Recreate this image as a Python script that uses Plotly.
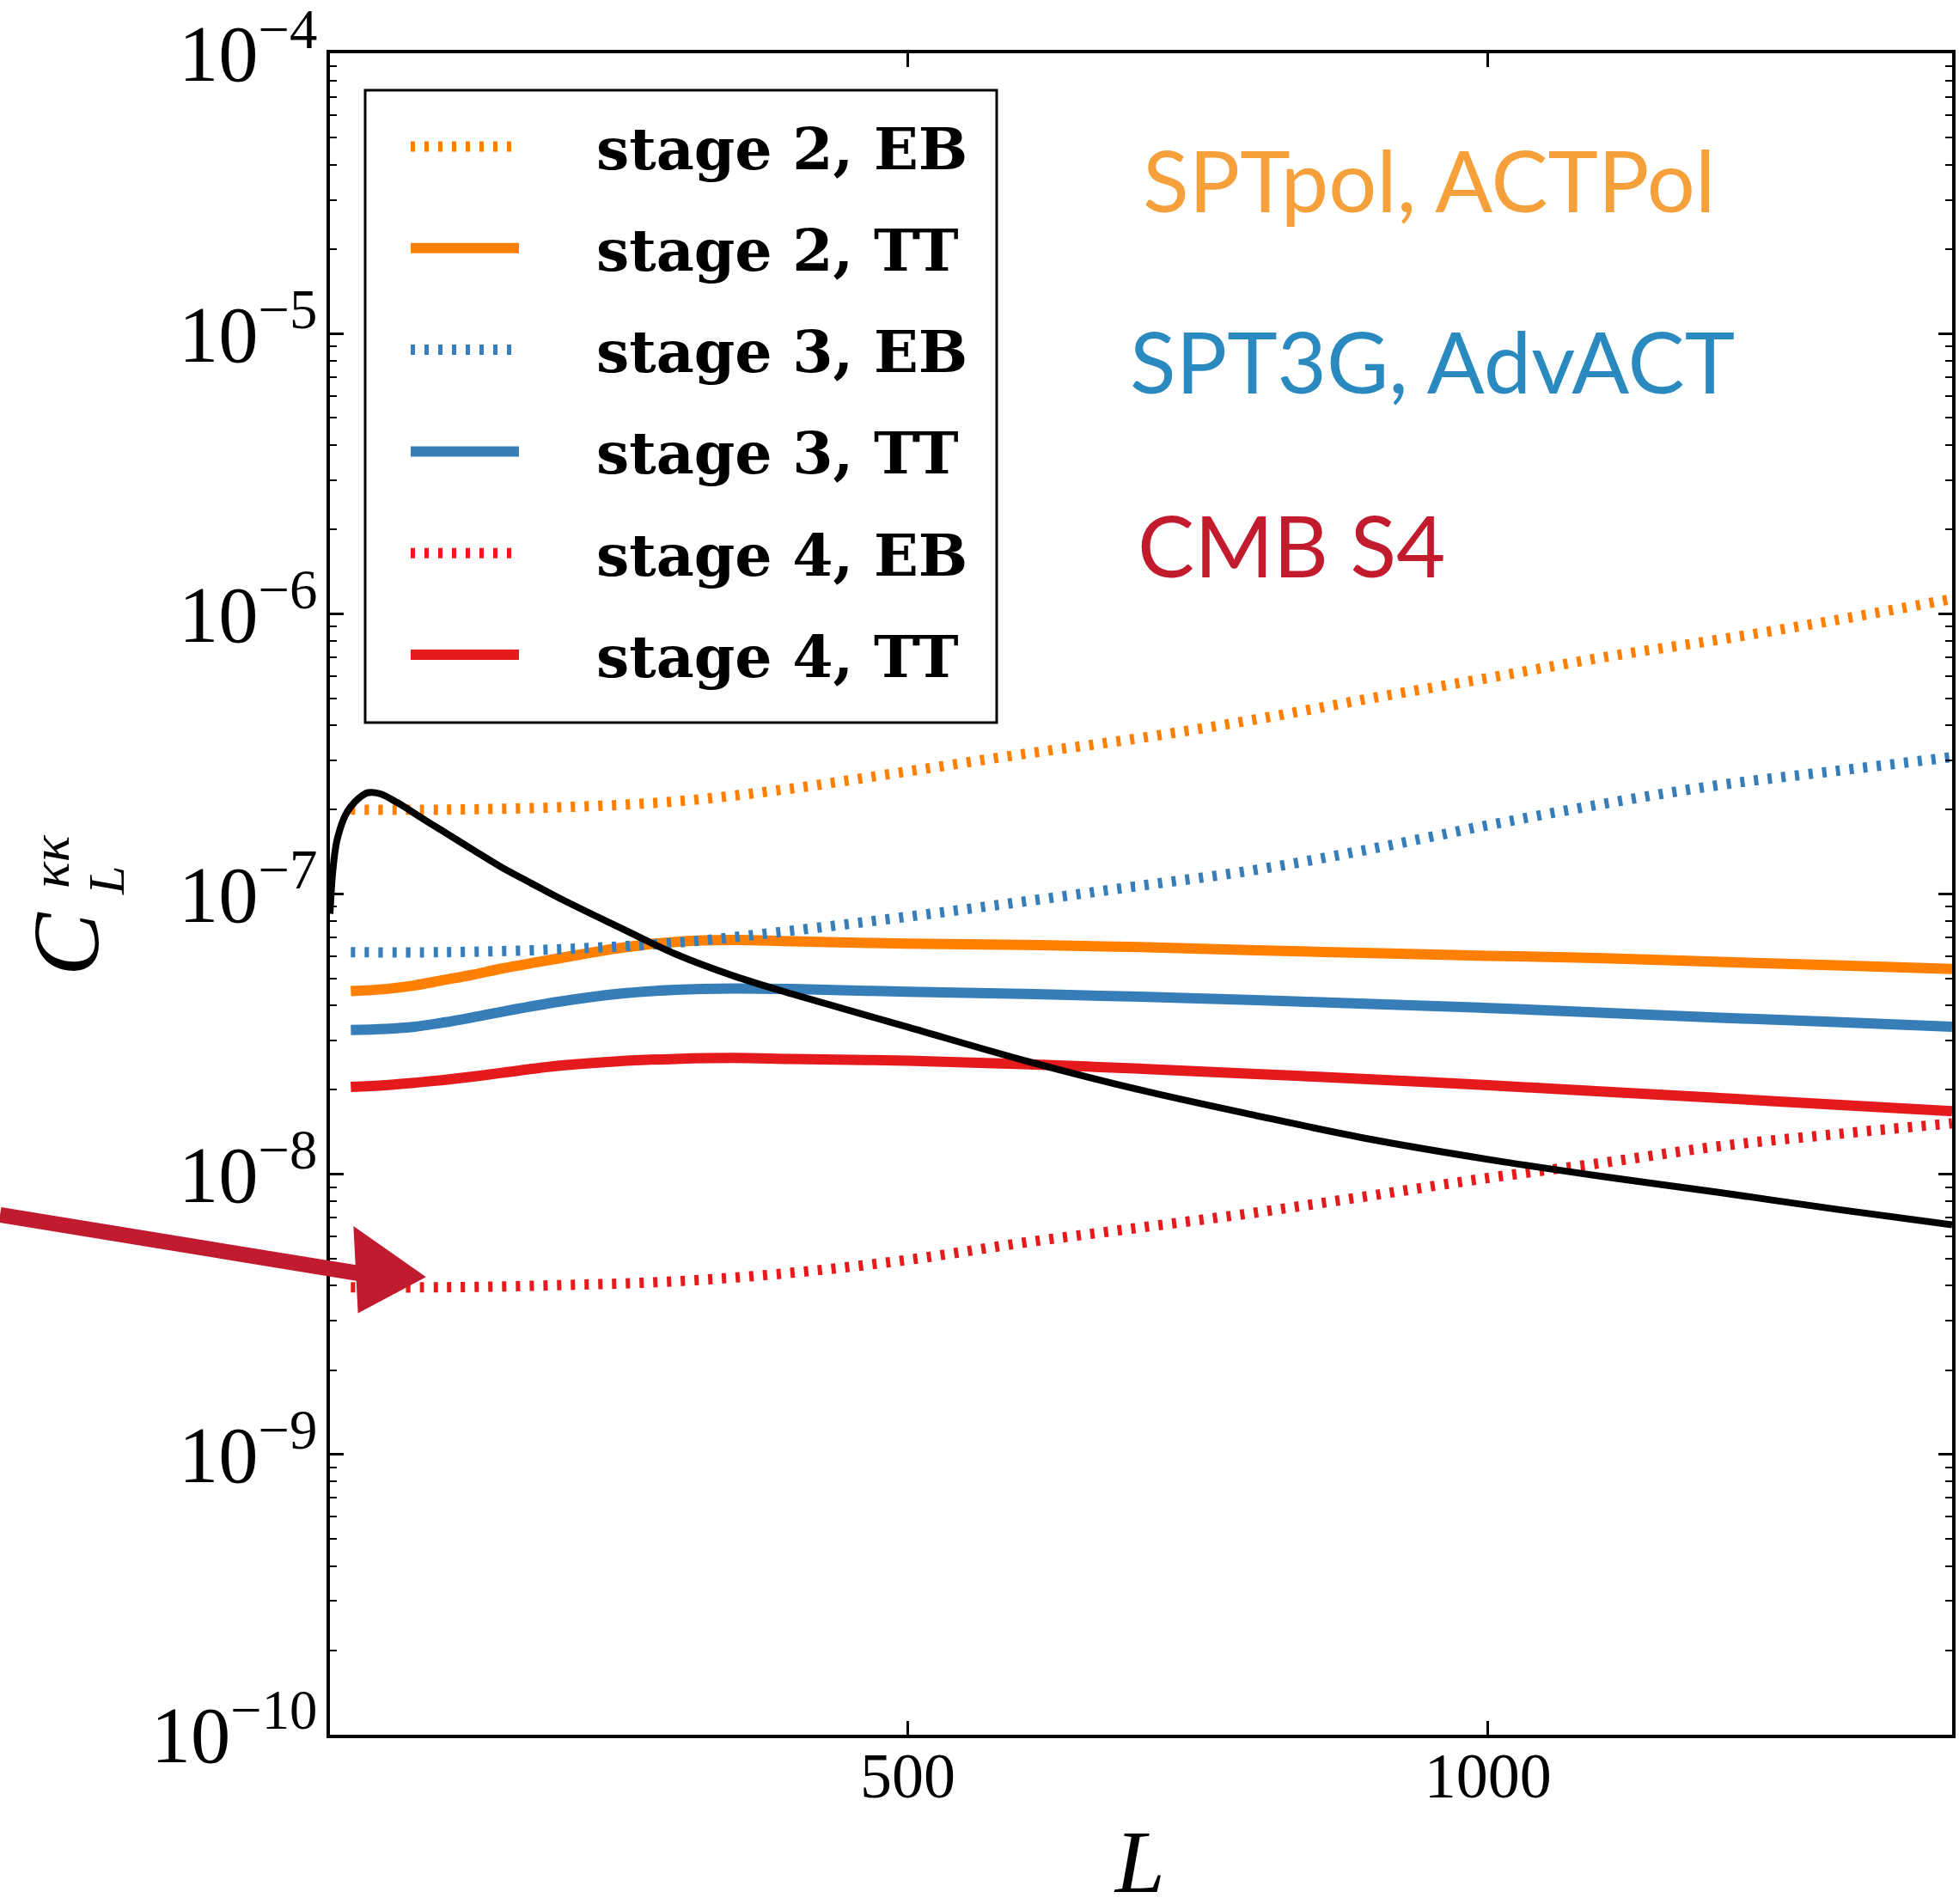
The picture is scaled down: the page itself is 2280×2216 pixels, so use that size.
import plotly.graph_objects as go

# ---------------- data ----------------
# multipole grids
L_eb = [20, 100, 200, 300, 400, 500, 600, 700, 800, 900, 1000, 1100, 1200, 1300, 1400]
L_tt = [20, 50, 75, 100, 125, 150, 200, 250, 300, 350, 400, 500, 600, 700, 800, 900,
        1000, 1100, 1200, 1300, 1400]
L_kk = [2, 3, 4, 6, 8, 11, 15, 20, 27, 35, 45, 60, 70, 80, 90, 100, 125, 150, 175, 200,
        250, 300, 350, 400, 500, 600, 700, 800, 900, 1000, 1100, 1200, 1300, 1400]

# lensing convergence power spectrum C_L^{kk}
C_kk = [8.5e-8, 1.0e-7, 1.15e-7, 1.38e-7, 1.55e-7, 1.72e-7, 1.9e-7, 2.05e-7, 2.2e-7,
        2.3e-7, 2.28e-7, 2.12e-7, 2.0e-7, 1.88e-7, 1.77e-7, 1.67e-7, 1.44e-7, 1.245e-7,
        1.095e-7, 9.65e-8, 7.65e-8, 6.1e-8, 5.1e-8, 4.4e-8, 3.35e-8, 2.55e-8, 2.0e-8,
        1.62e-8, 1.33e-8, 1.13e-8, 9.8e-9, 8.6e-9, 7.5e-9, 6.6e-9]

# reconstruction noise, EB estimator
N_eb_stage2 = [2.0e-7, 2.0e-7, 2.04e-7, 2.14e-7, 2.38e-7, 2.74e-7, 3.16e-7, 3.6e-7,
               4.2e-7, 5.0e-7, 5.9e-7, 7.0e-7, 8.1e-7, 9.5e-7, 1.13e-6]
N_eb_stage3 = [6.2e-8, 6.2e-8, 6.35e-8, 6.7e-8, 7.4e-8, 8.3e-8, 9.4e-8, 1.07e-7,
               1.22e-7, 1.45e-7, 1.76e-7, 2.1e-7, 2.45e-7, 2.75e-7, 3.08e-7]
N_eb_stage4 = [3.95e-9, 3.95e-9, 4.02e-9, 4.15e-9, 4.45e-9, 4.95e-9, 5.7e-9, 6.45e-9,
               7.3e-9, 8.4e-9, 9.7e-9, 1.1e-8, 1.26e-8, 1.39e-8, 1.52e-8]

# reconstruction noise, TT estimator
N_tt_stage2 = [4.5e-8, 4.58e-8, 4.72e-8, 4.93e-8, 5.15e-8, 5.42e-8, 5.9e-8, 6.4e-8,
               6.75e-8, 6.85e-8, 6.78e-8, 6.65e-8, 6.58e-8, 6.47e-8, 6.3e-8, 6.15e-8,
               6.02e-8, 5.9e-8, 5.72e-8, 5.57e-8, 5.4e-8]
N_tt_stage3 = [3.27e-8, 3.3e-8, 3.36e-8, 3.48e-8, 3.63e-8, 3.8e-8, 4.13e-8, 4.4e-8,
               4.55e-8, 4.6e-8, 4.58e-8, 4.48e-8, 4.4e-8, 4.3e-8, 4.18e-8, 4.05e-8,
               3.92e-8, 3.77e-8, 3.62e-8, 3.49e-8, 3.36e-8]
N_tt_stage4 = [2.05e-8, 2.08e-8, 2.12e-8, 2.17e-8, 2.23e-8, 2.3e-8, 2.44e-8, 2.53e-8,
               2.58e-8, 2.6e-8, 2.58e-8, 2.54e-8, 2.47e-8, 2.38e-8, 2.28e-8, 2.18e-8,
               2.08e-8, 1.97e-8, 1.87e-8, 1.77e-8, 1.68e-8]

labels = ["stage 2, EB", "stage 2, TT", "stage 3, EB",
          "stage 3, TT", "stage 4, EB", "stage 4, TT"]
experiments = ["SPTpol, ACTPol", "SPT3G, AdvACT", "CMB S4"]

x_ticks = [500, 1000]

# ---------------- styling ----------------
ORANGE, BLUE, RED = "#ff7f00", "#377eb8", "#e41a1c"
DOT = "5px,11px"
W, H = 2280, 2216
PL, PR, PT, PB = 384, 2272, 62, 2019  # plot area in pixels


def fx(px):
    return (px - PL) / (PR - PL)


def fy(py):
    return (PB - py) / (PB - PT)


series = [
    (L_eb, N_eb_stage2, ORANGE, DOT),
    (L_tt, N_tt_stage2, ORANGE, "solid"),
    (L_eb, N_eb_stage3, BLUE, DOT),
    (L_tt, N_tt_stage3, BLUE, "solid"),
    (L_eb, N_eb_stage4, RED, DOT),
    (L_tt, N_tt_stage4, RED, "solid"),
]

fig = go.Figure()
for (xs, ys, col, dash), name in zip(series, labels):
    fig.add_trace(go.Scatter(
        x=xs, y=ys, mode="lines", name=name, showlegend=False,
        line=dict(color=col, width=12, dash=dash, shape="spline", smoothing=1.0),
    ))

fig.add_trace(go.Scatter(
    x=L_kk, y=C_kk, mode="lines", name="C_L^kk", showlegend=False,
    line=dict(color="black", width=8, shape="spline", smoothing=1.0),
))

serif_tick = dict(family="Liberation Serif, DejaVu Serif, serif", size=74, color="black")

fig.update_layout(
    width=W, height=H, autosize=False,
    margin=dict(l=PL, r=W - PR, t=PT, b=H - PB, pad=0),
    paper_bgcolor="white", plot_bgcolor="white",
    xaxis=dict(
        range=[2, 1400], tickvals=x_ticks, ticktext=[str(v) for v in x_ticks],
        ticks="inside", ticklen=16, tickwidth=2.5, tickcolor="black",
        showline=True, linewidth=3.5, linecolor="black", mirror="ticks",
        showgrid=False, zeroline=False, tickfont=serif_tick, ticklabelstandoff=-20,
        automargin=False,
    ),
    yaxis=dict(
        type="log", range=[-10.0002, -3.9998], dtick=1, exponentformat="power",
        ticks="inside", ticklen=16, tickwidth=2.5, tickcolor="black",
        showline=True, linewidth=3.5, linecolor="black", mirror="ticks",
        showgrid=False, zeroline=False, tickfont=serif_tick, ticklabelstandoff=-4,
        ticklabeloverflow="allow", automargin=False,
        minor=dict(ticks="inside", ticklen=8, tickwidth=2, tickcolor="black",
                   dtick="D1", showgrid=False),
    ),
)

# ---------------- legend box ----------------
shapes = [dict(type="rect", xref="paper", yref="paper",
               x0=fx(425), x1=fx(1160), y0=fy(841), y1=fy(105),
               line=dict(color="black", width=3), fillcolor="white", layer="above")]
annotations = []
row0, row_step = 170.5, 118.3
for i, ((_, _, col, dash), name) in enumerate(zip(series, labels)):
    yy = row0 + row_step * i
    shapes.append(dict(type="line", xref="paper", yref="paper",
                       x0=fx(478), x1=fx(604), y0=fy(yy), y1=fy(yy),
                       line=dict(color=col, width=12, dash=dash), layer="above"))
    annotations.append(dict(xref="paper", yref="paper", x=fx(692), y=fy(yy + 2),
                            xanchor="left", yanchor="middle", showarrow=False,
                            text=name,
                            font=dict(family="DejaVu Serif, serif", size=68,
                                      color="black", weight="bold")))

# ---------------- experiment labels ----------------
exp_colors = ["#f5a03a", "#2a8ac0", "#c21b2e"]
exp_pos = [(1328, 208), (1313, 419), (1322, 633)]
for txt, col, (px, py) in zip(experiments, exp_colors, exp_pos):
    annotations.append(dict(xref="paper", yref="paper", x=fx(px), y=fy(py),
                            xanchor="left", yanchor="middle", showarrow=False,
                            text=txt, font=dict(family="Lato, sans-serif", size=99,
                                                color=col)))

# ---------------- axis titles ----------------
annotations.append(dict(xref="paper", yref="paper", x=fx(1326), y=fy(2166),
                        xanchor="center", yanchor="middle", showarrow=False,
                        text="<i>L</i>",
                        font=dict(family="Liberation Serif, serif", size=104, color="black")))
ylab_font = "Liberation Serif, serif"
annotations.append(dict(xref="paper", yref="paper", x=fx(77), y=fy(1099),
                        xanchor="center", yanchor="middle", showarrow=False,
                        text="<i>C</i>", textangle=-90,
                        font=dict(family=ylab_font, size=110, color="black")))
annotations.append(dict(xref="paper", yref="paper", x=fx(58), y=fy(1003),
                        xanchor="center", yanchor="middle", showarrow=False,
                        text="<i>κκ</i>", textangle=-90,
                        font=dict(family=ylab_font, size=64, color="black")))
annotations.append(dict(xref="paper", yref="paper", x=fx(124), y=fy(1025),
                        xanchor="center", yanchor="middle", showarrow=False,
                        text="<i>L</i>", textangle=-90,
                        font=dict(family=ylab_font, size=60, color="black")))

# ---------------- pointer arrow ----------------
ARROW = "#c11b30"
shapes.append(dict(type="line", xref="paper", yref="paper",
                   x0=fx(0), y0=fy(1414), x1=fx(430), y1=fy(1484),
                   line=dict(color=ARROW, width=18), layer="above"))
tri = [(413, 1430), (493, 1486), (418, 1526)]
path = "M {:.5f},{:.5f} L {:.5f},{:.5f} L {:.5f},{:.5f} Z".format(
    fx(tri[0][0]), fy(tri[0][1]), fx(tri[1][0]), fy(tri[1][1]),
    fx(tri[2][0]), fy(tri[2][1]))
shapes.append(dict(type="path", xref="paper", yref="paper", path=path,
                   fillcolor=ARROW, line=dict(color=ARROW, width=3), layer="above"))

fig.update_layout(shapes=shapes, annotations=annotations)

fig.write_html("out.html")
